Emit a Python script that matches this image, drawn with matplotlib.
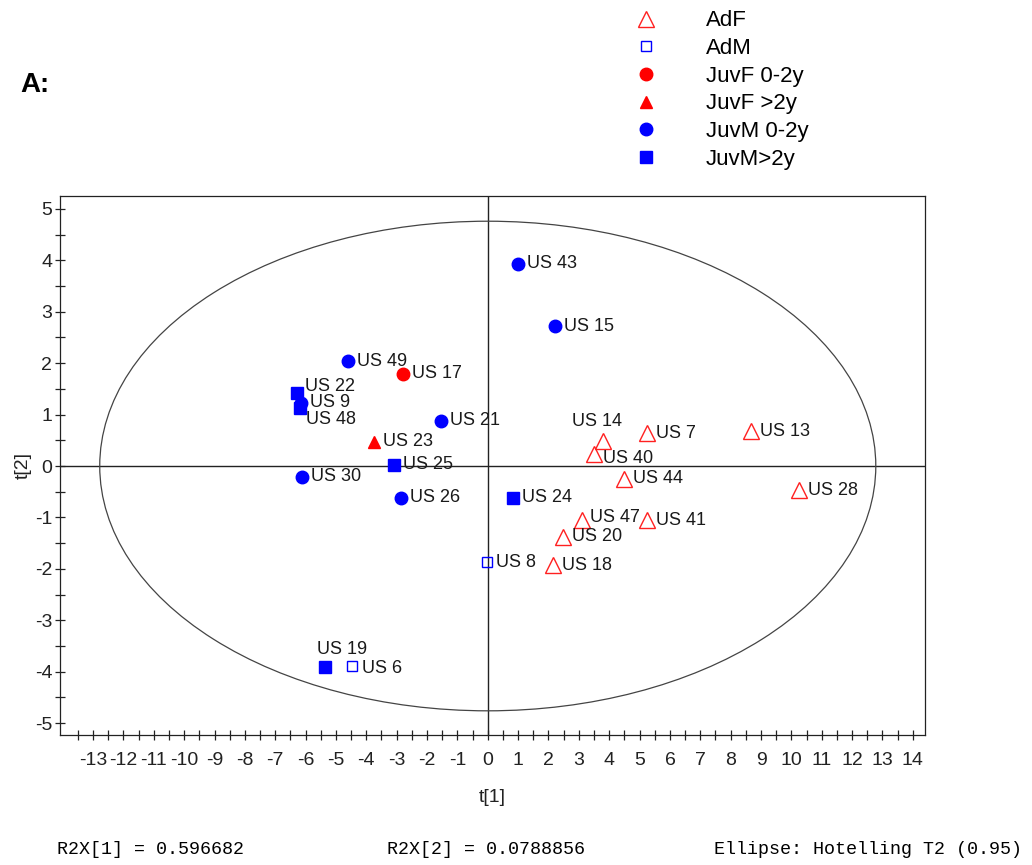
import matplotlib.pyplot as plt
from matplotlib.patches import Ellipse
from matplotlib.lines import Line2D
from matplotlib.ticker import MultipleLocator, FixedLocator

plt.rcParams['font.family'] = ['Liberation Sans', 'DejaVu Sans']
plt.rcParams['axes.unicode_minus'] = False

# scores
names = ['US 43', 'US 15', 'US 49', 'US 17', 'US 22', 'US 9', 'US 48', 'US 21',
         'US 23', 'US 25', 'US 30', 'US 26', 'US 24', 'US 8', 'US 19', 'US 6',
         'US 14', 'US 40', 'US 7', 'US 13', 'US 44', 'US 28', 'US 47', 'US 41',
         'US 20', 'US 18']
t1 = [0.99, 2.21, -4.60, -2.79, -6.28, -6.15, -6.18, -1.54,
      -3.75, -3.09, -6.12, -2.86, 0.83, -0.03, -5.36, -4.47,
      3.79, 3.50, 5.24, 8.66, 4.49, 10.24, 3.10, 5.24,
      2.47, 2.14]
t2 = [3.93, 2.72, 2.04, 1.79, 1.42, 1.23, 1.13, 0.88,
      0.47, 0.02, -0.21, -0.62, -0.62, -1.87, -3.91, -3.89,
      0.49, 0.23, 0.64, 0.68, -0.25, -0.47, -1.05, -1.05,
      -1.38, -1.93]
groups = ['JuvM 0-2y', 'JuvM 0-2y', 'JuvM 0-2y', 'JuvF 0-2y', 'JuvM>2y', 'JuvM 0-2y',
          'JuvM>2y', 'JuvM 0-2y', 'JuvF >2y', 'JuvM>2y', 'JuvM 0-2y', 'JuvM 0-2y',
          'JuvM>2y', 'AdM', 'JuvM>2y', 'AdM',
          'AdF', 'AdF', 'AdF', 'AdF', 'AdF', 'AdF', 'AdF', 'AdF', 'AdF', 'AdF']
x_ticks = list(range(-13, 15))
y_ticks = list(range(-5, 6))

group_order = ['AdF', 'AdM', 'JuvF 0-2y', 'JuvF >2y', 'JuvM 0-2y', 'JuvM>2y']
styles = {
    'AdF': dict(marker='^', mfc='none', mec='#ff2020', ms=11, mew=1.0),
    'AdM': dict(marker='s', mfc='none', mec='#0000ff', ms=7, mew=1.0),
    'JuvF 0-2y': dict(marker='o', mfc='#ff0000', mec='#ff0000', ms=9),
    'JuvF >2y': dict(marker='^', mfc='#ff0000', mec='#ff0000', ms=9),
    'JuvM 0-2y': dict(marker='o', mfc='#0000ff', mec='#0000ff', ms=9),
    'JuvM>2y': dict(marker='s', mfc='#0000ff', mec='#0000ff', ms=8),
}

# label offsets (points) that differ from the default right-hand placement
offsets = {'US 14': (-4, 14, 'center'), 'US 22': (5.5, 4.5, 'left'),
           'US 48': (4, -8.5, 'left'), 'US 19': (-6, 13, 'left'),
           'US 40': (6.5, -3, 'left'), 'US 6': (7, -2, 'left'),
           'US 47': (6, 1.5, 'left')}

fig = plt.figure(figsize=(10.32, 8.65), dpi=100)
ax = fig.add_axes([0.0581, 0.1503, 0.8382, 0.6231])

ax.axhline(0, color='#222222', lw=1.0, zorder=1)
ax.axvline(0, color='#222222', lw=1.0, zorder=1)
ax.add_patch(Ellipse((0, 0), 2 * 12.78, 2 * 4.76, fill=False,
                     edgecolor='#444444', lw=0.9, zorder=1))

for g in group_order:
    xs = [x for x, gg in zip(t1, groups) if gg == g]
    ys = [y for y, gg in zip(t2, groups) if gg == g]
    ax.plot(xs, ys, ls='none', zorder=3, **styles[g])

for n, x, y in zip(names, t1, t2):
    dx, dy, ha = offsets.get(n, (6.5, 0, 'left'))
    ax.annotate(n, (x, y), xytext=(dx, dy), textcoords='offset points',
                ha=ha, va='center', fontsize=13, color='#1a1a1a', zorder=4)

ax.set_xlim(-14.09, 14.4)
ax.set_ylim(-5.23, 5.25)
ax.xaxis.set_major_locator(FixedLocator(x_ticks))
ax.xaxis.set_minor_locator(FixedLocator([v + 0.5 for v in range(-14, 14)]))
ax.yaxis.set_major_locator(FixedLocator(y_ticks))
ax.yaxis.set_minor_locator(MultipleLocator(0.5))
ax.tick_params(which='both', direction='inout', length=7, width=0.9,
               colors='#222222', top=False, right=False)
ax.tick_params(which='major', labelsize=14)
ax.tick_params(axis='x', which='major', pad=9)
ax.tick_params(axis='y', which='major', pad=2)
for s in ax.spines.values():
    s.set_linewidth(0.9)
    s.set_color('#222222')

ax.set_xlabel('t[1]', fontsize=14, labelpad=14, color='#222222')
ax.set_ylabel('t[2]', fontsize=14, labelpad=2, color='#222222')

handles = [Line2D([], [], ls='none', **styles[g]) for g in group_order]
fig.legend(handles, group_order, loc='upper left', bbox_to_anchor=(0.604, 0.988),
           frameon=False, fontsize=16, borderpad=0, borderaxespad=0,
           handletextpad=1.7, labelspacing=0.3, numpoints=1)

fig.text(20 / 1032, 1 - 85 / 865, 'A:', fontsize=20, fontweight='bold', va='center')

mono = ['Liberation Mono', 'DejaVu Sans Mono']
fig.text(57 / 1032, 1 - 849 / 865, 'R2X[1] = 0.596682', family=mono, fontsize=13.2, va='center')
fig.text(387 / 1032, 1 - 849 / 865, 'R2X[2] = 0.0788856', family=mono, fontsize=13.2, va='center')
fig.text(714 / 1032, 1 - 849 / 865, 'Ellipse: Hotelling T2 (0.95)', family=mono, fontsize=13.2, va='center')

fig.savefig('out.png', dpi=100)
